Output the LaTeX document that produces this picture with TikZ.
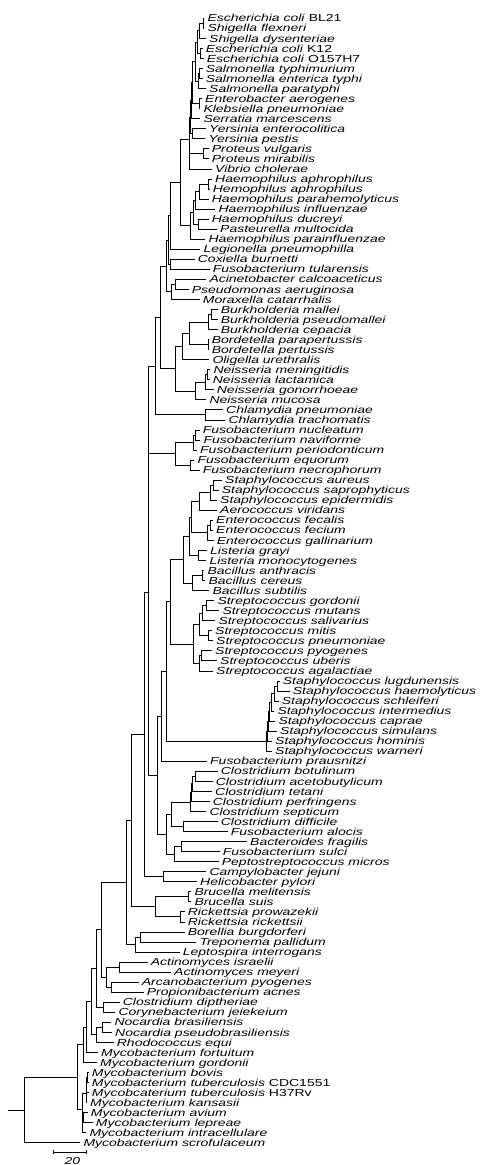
\documentclass[tikz,border=0pt]{standalone}
\usepackage{fontspec}
\usetikzlibrary{calc,arrows.meta}
\newfontfamily\labfont[FakeStretch=1.37]{Liberation Sans}
\tikzset{
  br/.style={line width=0.8pt, draw=black},
  leaf/.style={anchor=west, inner xsep=3pt, inner ysep=0pt, text height=7.3pt, text depth=0pt,
    font={\labfont\itshape\fontsize{10.2}{11}\selectfont}},
}
\newcommand\leafnode[3]{\node[leaf] (L#1) at ({#2-3},{18.3+(#1-1)*10.04}) {#3};}
\newcommand\treenode[4]{\path let \p1=(#3), \p2=(#4) in coordinate (#1) at (#2pt,{0.5*(\y1+\y2)});
  \draw[br] (#1) |- (#3) (#1) |- (#4);}
\begin{document}
\begin{tikzpicture}[x=1pt,y=-1pt]
\useasboundingbox (0,0) rectangle (500,1165);
\leafnode{1}{207.3}{Escherichia coli \textup{BL21}}
\leafnode{2}{207.3}{Shigella flexneri}
\leafnode{3}{209}{Shigella dysenteriae}
\leafnode{4}{205.7}{Escherichia coli \textup{K12}}
\leafnode{5}{206.7}{Escherichia coli \textup{O157H7}}
\leafnode{6}{205.7}{Salmonella typhimurium}
\leafnode{7}{205.7}{Salmonella enterica typhi}
\leafnode{8}{209}{Salmonella paratyphi}
\leafnode{9}{205}{Enterobacter aerogenes}
\leafnode{10}{203.3}{Klebsiella pneumoniae}
\leafnode{11}{203.3}{Serratia marcescens}
\leafnode{12}{209}{Yersinia enterocolitica}
\leafnode{13}{208.3}{Yersinia pestis}
\leafnode{14}{211.7}{Proteus vulgaris}
\leafnode{15}{211.7}{Proteus mirabilis}
\leafnode{16}{215}{Vibrio cholerae}
\leafnode{17}{215}{Haemophilus aphrophilus}
\leafnode{18}{212.7}{Hemophilus aphrophilus}
\leafnode{19}{211.7}{Haemophilus parahemolyticus}
\leafnode{20}{218.3}{Haemophilus influenzae}
\leafnode{21}{211.7}{Haemophilus ducreyi}
\leafnode{22}{220}{Pasteurella multocida}
\leafnode{23}{208.3}{Haemophilus parainfluenzae}
\leafnode{24}{203.3}{Legionella pneumophilla}
\leafnode{25}{197.7}{Coxiella burnetti}
\leafnode{26}{212.7}{Fusobacterium tularensis}
\leafnode{27}{209.3}{Acinetobacter calcoaceticus}
\leafnode{28}{191.7}{Pseudomonas aeruginosa}
\leafnode{29}{202.7}{Moraxella catarrhalis}
\leafnode{30}{220.7}{Burkholderia mallei}
\leafnode{31}{220.7}{Burkholderia pseudomallei}
\leafnode{32}{220.7}{Burkholderia cepacia}
\leafnode{33}{211.7}{Bordetella parapertussis}
\leafnode{34}{211.7}{Bordetella pertussis}
\leafnode{35}{212.3}{Oligella urethralis}
\leafnode{36}{213.3}{Neisseria meningitidis}
\leafnode{37}{212.7}{Neisseria lactamica}
\leafnode{38}{216.7}{Neisseria gonorrhoeae}
\leafnode{39}{209.3}{Neisseria mucosa}
\leafnode{40}{226}{Chlamydia pneumoniae}
\leafnode{41}{228.3}{Chlamydia trachomatis}
\leafnode{42}{202.7}{Fusobacterium nucleatum}
\leafnode{43}{203.3}{Fusobacterium naviforme}
\leafnode{44}{200}{Fusobacterium periodonticum}
\leafnode{45}{197.3}{Fusobacterium equorum}
\leafnode{46}{202.7}{Fusobacterium necrophorum}
\leafnode{47}{225}{Staphylococcus aureus}
\leafnode{48}{221.7}{Staphylococcus saprophyticus}
\leafnode{49}{220}{Staphylococcus epidermidis}
\leafnode{50}{220}{Aerococcus viridans}
\leafnode{51}{216}{Enterococcus fecalis}
\leafnode{52}{216}{Enterococcus fecium}
\leafnode{53}{216.7}{Enterococcus gallinarium}
\leafnode{54}{210}{Listeria grayi}
\leafnode{55}{209.3}{Listeria monocytogenes}
\leafnode{56}{207.3}{Bacillus anthracis}
\leafnode{57}{208.3}{Bacillus cereus}
\leafnode{58}{212.3}{Bacillus subtilis}
\leafnode{59}{217.3}{Streptococcus gordonii}
\leafnode{60}{222.3}{Streptococcus mutans}
\leafnode{61}{218.3}{Streptococcus salivarius}
\leafnode{62}{215}{Streptococcus mitis}
\leafnode{63}{216}{Streptococcus pneumoniae}
\leafnode{64}{215}{Streptococcus pyogenes}
\leafnode{65}{220}{Streptococcus uberis}
\leafnode{66}{216}{Streptococcus agalactiae}
\leafnode{67}{282.7}{Staphylococcus lugdunensis}
\leafnode{68}{292.7}{Staphylococcus haemolyticus}
\leafnode{69}{281.7}{Staphylococcus schleiferi}
\leafnode{70}{277.3}{Staphylococcus intermedius}
\leafnode{71}{278.3}{Staphylococcus caprae}
\leafnode{72}{280}{Staphylococcus simulans}
\leafnode{73}{275}{Staphylococcus hominis}
\leafnode{74}{275}{Staphylococcus warneri}
\leafnode{75}{210}{Fusobacterium prausnitzi}
\leafnode{76}{220.7}{Clostridium botulinum}
\leafnode{77}{215.7}{Clostridium acetobutylicum}
\leafnode{78}{215}{Clostridium tetani}
\leafnode{79}{212.7}{Clostridium perfringens}
\leafnode{80}{209.3}{Clostridium septicum}
\leafnode{81}{220.7}{Clostridium difficile}
\leafnode{82}{230.7}{Fusobacterium alocis}
\leafnode{83}{250}{Bacteroides fragilis}
\leafnode{84}{222.7}{Fusobacterium sulci}
\leafnode{85}{221.7}{Peptostreptococcus micros}
\leafnode{86}{209.3}{Campylobacter jejuni}
\leafnode{87}{200}{Helicobacter pylori}
\leafnode{88}{194.3}{Brucella melitensis}
\leafnode{89}{194.3}{Brucella suis}
\leafnode{90}{187.7}{Rickettsia prowazekii}
\leafnode{91}{187.7}{Rickettsia rickettsii}
\leafnode{92}{187.7}{Borellia burgdorferi}
\leafnode{93}{199.3}{Treponema pallidum}
\leafnode{94}{182.7}{Leptospira interrogans}
\leafnode{95}{150.7}{Actinomyces israelii}
\leafnode{96}{174}{Actinomyces meyeri}
\leafnode{97}{141.7}{Arcanobacterium pyogenes}
\leafnode{98}{146.7}{Propionibacterium acnes}
\leafnode{99}{122.7}{Clostridium diptheriae}
\leafnode{100}{118.3}{Corynebacterium jeiekeium}
\leafnode{101}{114.3}{Nocardia brasiliensis}
\leafnode{102}{115}{Nocardia pseudobrasiliensis}
\leafnode{103}{116.7}{Rhodococcus equi}
\leafnode{104}{101}{Mycobacterium fortuitum}
\leafnode{105}{100}{Mycobacterium gordonii}
\leafnode{106}{91.7}{Mycobacterium bovis}
\leafnode{107}{91.7}{Mycobacterium tuberculosis \textup{CDC1551}}
\leafnode{108}{91.7}{Mycobcaterium tuberculosis \textup{H37Rv}}
\leafnode{109}{90}{Mycobacterium kansasii}
\leafnode{110}{90.7}{Mycobacterium avium}
\leafnode{111}{95.7}{Mycobacterium lepreae}
\leafnode{112}{89.3}{Mycobacterium intracellulare}
\leafnode{113}{83.3}{Mycobacterium scrofulaceum}
% Enterobacteria
\treenode{A1}{203.3}{L1.west}{L2.west}
\treenode{A2}{199}{A1}{L3.west}
\treenode{A3}{200}{L4.west}{L5.west}
\treenode{A4}{197.5}{A2}{A3}
\treenode{S1}{199.5}{L6.west}{L7.west}
\treenode{S2}{198}{S1}{L8.west}
\treenode{A5}{195.5}{A4}{S2}
\treenode{K1}{199}{L9.west}{L10.west}
\treenode{E1}{192.5}{A5}{K1}
\treenode{E2}{191.7}{E1}{L11.west}
\treenode{Y1}{192.3}{L12.west}{L13.west}
\treenode{E3}{190.3}{E2}{Y1}
\treenode{P1}{203.3}{L14.west}{L15.west}
\treenode{PV}{189.5}{P1}{L16.west}
\treenode{E4}{189.5}{E3}{PV}
% Pasteurellaceae
\treenode{H1}{208.3}{L17.west}{L18.west}
\treenode{H2}{199}{H1}{L19.west}
\treenode{H3}{195.7}{H2}{L20.west}
\treenode{H4}{198.3}{L21.west}{L22.west}
\treenode{H5}{193.3}{H3}{H4}
\treenode{H6}{190.7}{H5}{L23.west}
\treenode{N180}{180}{E4}{H6}
\treenode{PA1}{170.7}{N180}{L24.west}
\treenode{CF}{170.7}{L25.west}{L26.west}
\treenode{PA}{168.3}{PA1}{CF}
\treenode{AP}{175.7}{L27.west}{L28.west}
\treenode{AM}{171}{AP}{L29.west}
\treenode{PB}{166.7}{PA}{AM}
% beta proteobacteria
\treenode{BK1}{211}{L30.west}{L31.west}
\treenode{BK2}{208.3}{BK1}{L32.west}
\treenode{BD}{208.3}{L33.west}{L34.west}
\treenode{BK3}{189}{BK2}{BD}
\treenode{BK4}{182.7}{BK3}{L35.west}
\treenode{N1}{207.3}{L36.west}{L37.west}
\treenode{N2}{205.7}{N1}{L38.west}
\treenode{N3}{195.7}{N2}{L39.west}
\treenode{BN}{175.7}{BK4}{N3}
\treenode{N160}{160}{PB}{BN}
\treenode{CH}{205.7}{L40.west}{L41.west}
\treenode{N155}{155}{N160}{CH}
\treenode{F1}{195.7}{L42.west}{L43.west}
\treenode{F2}{193.3}{F1}{L44.west}
\treenode{F3}{190.7}{L45.west}{L46.west}
\treenode{F4}{175.7}{F2}{F3}
\treenode{Q}{148.8}{N155}{F4}
% Firmicutes
\treenode{ST1}{213.3}{L47.west}{L48.west}
\treenode{ST2}{210.7}{ST1}{L49.west}
\treenode{ST3}{199}{ST2}{L50.west}
\treenode{EN1}{210.7}{L51.west}{L52.west}
\treenode{EN2}{207.3}{EN1}{L53.west}
\treenode{ST4}{191.7}{ST3}{EN2}
\treenode{LI}{198.3}{L54.west}{L55.west}
\treenode{ST5}{189}{ST4}{LI}
\treenode{BA1}{202.3}{L56.west}{L57.west}
\treenode{BA2}{192.7}{BA1}{L58.west}
\treenode{N183}{183.3}{ST5}{BA2}
\treenode{SR1}{206.7}{L59.west}{L60.west}
\treenode{SR2}{202.7}{SR1}{L61.west}
\treenode{SR3}{208.3}{L62.west}{L63.west}
\treenode{SR4}{199.3}{SR2}{SR3}
\treenode{SR5}{201.7}{L64.west}{L65.west}
\treenode{SR6}{199}{SR5}{L66.west}
\treenode{SR7}{193.3}{SR4}{SR6}
\treenode{N170}{170.7}{N183}{SR7}
\treenode{SH1}{277.3}{L67.west}{L68.west}
\treenode{SH2}{274}{SH1}{L69.west}
\treenode{SH3}{271}{SH2}{L70.west}
\treenode{SH4}{269.5}{SH3}{L71.west}
\treenode{SH5}{268.3}{SH4}{L72.west}
\treenode{SH6}{267.3}{SH5}{L73.west}
\treenode{SH7}{266.3}{SH6}{L74.west}
\treenode{N166}{166}{N170}{SH7}
\treenode{N161}{161.7}{N166}{L75.west}
\treenode{CL1}{195}{L76.west}{L77.west}
\treenode{CL2}{192.7}{CL1}{L78.west}
\treenode{CL3}{191}{CL2}{L79.west}
\treenode{CL4}{190}{CL3}{L80.west}
\treenode{DF}{183.3}{L81.west}{L82.west}
\treenode{C5}{171}{CL4}{DF}
\treenode{BF}{181.7}{L83.west}{L84.west}
\treenode{B2}{174}{BF}{L85.west}
\treenode{C6}{166.7}{C5}{B2}
\treenode{N157}{157.3}{N161}{C6}
\treenode{R}{148.3}{Q}{N157}
\treenode{CJ}{163.3}{L86.west}{L87.west}
\treenode{N144}{144}{R}{CJ}
\treenode{BR1}{188.3}{L88.west}{L89.west}
\treenode{RK}{180}{L90.west}{L91.west}
\treenode{BR}{155}{BR1}{RK}
\treenode{N131}{131.7}{N144}{BR}
\treenode{BT}{140.7}{L92.west}{L93.west}
\treenode{BTL}{135}{BT}{L94.west}
\treenode{N126}{126}{N131}{BTL}
% Actinobacteria
\treenode{AC1}{119.3}{L95.west}{L96.west}
\treenode{AC2}{111.7}{L97.west}{L98.west}
\treenode{AC3}{106.7}{AC1}{AC2}
\treenode{N101}{101}{N126}{AC3}
\treenode{COR}{103.3}{L99.west}{L100.west}
\treenode{X1}{96.7}{N101}{COR}
\treenode{NOC}{102.7}{L101.west}{L102.west}
\treenode{NR}{96.7}{NOC}{L103.west}
\treenode{X2}{91.7}{X1}{NR}
\treenode{X3}{86}{X2}{L104.west}
\treenode{X4}{83.3}{X3}{L105.west}
\treenode{TB1}{87.3}{L106.west}{L107.west}
\treenode{TB2}{86.7}{TB1}{L108.west}
\treenode{TK}{86}{TB2}{L109.west}
\treenode{AV1}{83}{L110.west}{L111.west}
\treenode{AV2}{82}{AV1}{L112.west}
\treenode{TKA}{82.7}{TK}{AV2}
\treenode{X5}{77.3}{X4}{TKA}
\treenode{ROOT}{24}{X5}{L113.west}
\path (ROOT) ++(-15.7,0) coordinate (STUB);
\draw[br] (STUB) -- (ROOT);
% scale bar
\coordinate (SBA) at (53.3,1152.3);
\coordinate (SBB) at (86.7,1152.3);
\draw[br, {Bar[width=4pt]}-{Bar[width=4pt]}] (SBA) -- (SBB);
\node[font={\labfont\itshape\fontsize{10.2}{11}\selectfont}, inner sep=0pt] (SBL) at (72.5,1160.5) {20};
\end{tikzpicture}
\end{document}
